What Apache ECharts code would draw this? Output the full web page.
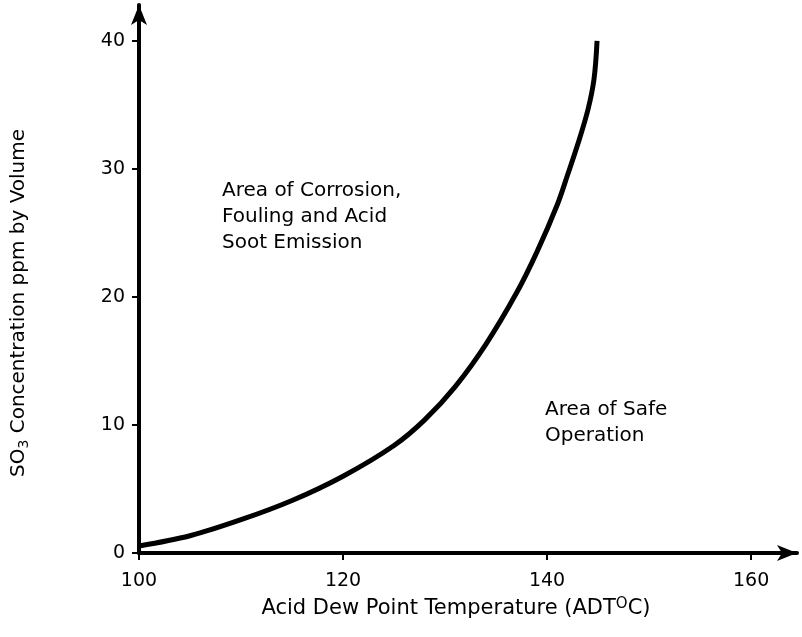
<!DOCTYPE html>
<html>
<head>
<meta charset="utf-8">
<script src="https://cdn.jsdelivr.net/npm/echarts@6/dist/echarts.min.js"></script>
<style>
html,body{margin:0;padding:0;background:#fff;}
#chart{width:802px;height:637px;}
</style>
</head>
<body>
<div id="chart"></div>
<script>
// Acid dew point temperature (°C)
const temperature = [100, 105, 110, 115, 120, 125, 128, 131, 134, 137, 139, 141, 142, 143, 144, 144.6, 144.9];
// SO3 concentration (ppm by volume)
const so3ppm = [0.55, 1.35, 2.6, 4.1, 6.0, 8.4, 10.4, 13.0, 16.3, 20.3, 23.5, 27.2, 29.5, 31.9, 34.6, 37.0, 40];
const xTicks = [100, 120, 140, 160];
const yTicks = [0, 10, 20, 30, 40];
const corrosionLabel = ['Area of Corrosion,', 'Fouling and Acid', 'Soot Emission'];
const safeLabel = ['Area of Safe', 'Operation'];

const FONT = '"DejaVu Sans", "Liberation Sans", sans-serif';
const INK = '#000';

const chart = echarts.init(document.getElementById('chart'));
chart.setOption({
  animation: false,
  backgroundColor: '#fff',
  grid: {left: 139, right: 5, top: 5, bottom: 84, containLabel: false},
  xAxis: {
    type: 'value', min: 100, max: 164.5, interval: 20,
    name: 'Acid Dew Point Temperature (ADT{sup|O}C)',
    nameLocation: 'middle', nameGap: 44,
    nameTextStyle: {
      fontFamily: FONT, fontSize: 21, color: INK, padding: [0, 24, 0, 0],
      rich: {sup: {fontFamily: FONT, fontSize: 15, color: INK, verticalAlign: 'top', padding: [0, 0, 8, 0]}}
    },
    axisLine: {onZero: false, symbol: ['none', 'arrow'], symbolSize: [12, 20], lineStyle: {color: INK, width: 4}},
    axisTick: {show: true, length: 7, lineStyle: {color: INK, width: 2}},
    axisLabel: {
      fontFamily: FONT, fontSize: 19, color: INK, margin: 19, showMaxLabel: false,
      formatter: v => xTicks.includes(v) ? String(v) : ''
    },
    splitLine: {show: false}
  },
  yAxis: {
    type: 'value', min: 0, max: 42.8, interval: 10,
    name: '{n|SO}{sub|3}{n| Concentration ppm by Volume}',
    nameLocation: 'middle', nameGap: 108, nameRotate: 90,
    nameTextStyle: {
      fontFamily: FONT, fontSize: 20, color: INK, padding: [0, 48, 0, 0],
      rich: {
        n: {fontFamily: FONT, fontSize: 20, color: INK},
        sub: {fontFamily: FONT, fontSize: 14, color: INK, verticalAlign: 'bottom', padding: [10, 0, 0, 0]}
      }
    },
    axisLine: {onZero: false, symbol: ['none', 'arrow'], symbolSize: [12, 20], lineStyle: {color: INK, width: 4}},
    axisTick: {show: true, length: 7, lineStyle: {color: INK, width: 2}},
    axisLabel: {
      fontFamily: FONT, fontSize: 19, color: INK, margin: 14, showMaxLabel: false,
      formatter: v => yTicks.includes(v) ? String(v) : ''
    },
    splitLine: {show: false}
  },
  series: [{
    type: 'line',
    data: temperature.map((t, i) => [t, so3ppm[i]]),
    smooth: 0.35,
    symbol: 'none',
    lineStyle: {color: INK, width: 5},
    z: 3
  }],
  graphic: [
    {type: 'text', left: 222, top: 178, style: {text: corrosionLabel.join('\n'), font: '20px ' + FONT, fill: INK, lineHeight: 26}},
    {type: 'text', left: 545, top: 397, style: {text: safeLabel.join('\n'), font: '20px ' + FONT, fill: INK, lineHeight: 26}}
  ]
});
</script>
</body>
</html>
